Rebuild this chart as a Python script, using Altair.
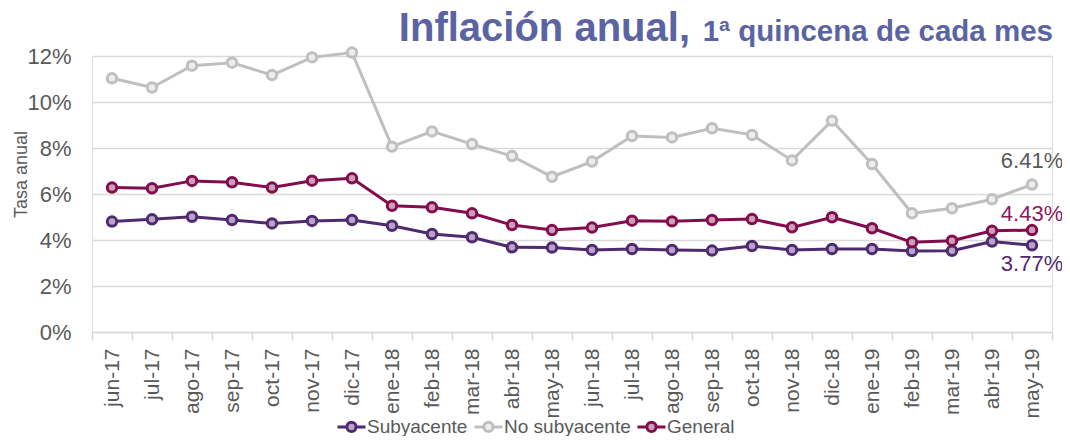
import altair as alt
import pandas as pd

months = ["jun-17", "jul-17", "ago-17", "sep-17", "oct-17", "nov-17", "dic-17",
          "ene-18", "feb-18", "mar-18", "abr-18", "may-18", "jun-18", "jul-18",
          "ago-18", "sep-18", "oct-18", "nov-18", "dic-18", "ene-19", "feb-19",
          "mar-19", "abr-19", "may-19"]

subyacente = [4.80, 4.90, 5.01, 4.87, 4.72, 4.83, 4.87, 4.62, 4.26, 4.12, 3.68, 3.67,
              3.57, 3.61, 3.57, 3.54, 3.74, 3.57, 3.61, 3.61, 3.52, 3.53, 3.93, 3.77]
no_subyacente = [11.03, 10.63, 11.58, 11.71, 11.17, 11.94, 12.15, 8.06, 8.72, 8.17, 7.65, 6.75,
                 7.41, 8.52, 8.46, 8.86, 8.57, 7.46, 9.19, 7.30, 5.16, 5.38, 5.77, 6.41]
general = [6.28, 6.25, 6.57, 6.51, 6.28, 6.58, 6.68, 5.49, 5.42, 5.16, 4.65, 4.43,
           4.54, 4.84, 4.81, 4.87, 4.91, 4.55, 4.99, 4.51, 3.90, 3.97, 4.40, 4.43]

series_names = ["Subyacente", "No subyacente", "General"]
stroke_colors = ["#4F2A6E", "#BFBFBF", "#820C4E"]
fill_colors = ["#B8A4C9", "#EDEDED", "#C9A0B8"]
label_colors = ["#4F2A6E", "#595959", "#8B1A5A"]
label_dy = [26, -17, -9]

title_main = "Inflación anual,"
title_sub = "1ª quincena de cada mes"
y_title = "Tasa anual"

rows = []
for name, vals in zip(series_names, [subyacente, no_subyacente, general]):
    for m, v in zip(months, vals):
        rows.append({"mes": m, "serie": name, "valor": v / 100.0})
df = pd.DataFrame(rows)

FONT = "Liberation Sans"
GRAY = "#595959"

x_enc = alt.X("mes:N", sort=months, bandPosition=0.5,
              scale=alt.Scale(type="band", paddingInner=0, paddingOuter=0),
              axis=alt.Axis(title=None, labelAngle=270, labelAlign="right", labelBaseline="middle",
                            labelFontSize=21, labelColor=GRAY, labelFont=FONT, labelPadding=8,
                            domainColor="#D9D9D9", domainWidth=1.5, tickColor="#D9D9D9",
                            tickWidth=1.5, tickSize=8, tickBand="extent", grid=False))
y_enc = alt.Y("valor:Q",
              scale=alt.Scale(domain=[0, 0.12], nice=False, zero=True),
              axis=alt.Axis(title=y_title, format=".0%", values=[0, 0.02, 0.04, 0.06, 0.08, 0.10, 0.12],
                            labelFontSize=22, labelColor=GRAY, labelFont=FONT, labelPadding=21,
                            domain=False, ticks=False, grid=True, gridColor="#D9D9D9", gridWidth=1.5,
                            titleFont=FONT, titleFontSize=18, titleFontWeight="normal",
                            titleColor=GRAY, titleAngle=270, titleX=-71, titleY=118,
                            titleAlign="center", titleBaseline="middle"))

legend_symbol = "M-1,0L-0.33,0M0.33,0L1,0M0.33,0A0.33,0.33,0,1,1,-0.33,0A0.33,0.33,0,1,1,0.33,0Z"
leg = alt.Legend(title=None, orient="none", legendX=244, legendY=355, direction="horizontal",
                 symbolType=legend_symbol, symbolSize=784, symbolStrokeWidth=3,
                 labelFontSize=19, labelColor=GRAY, labelFont=FONT, labelOffset=0,
                 columnPadding=0, padding=0)

stroke_scale = alt.Scale(domain=series_names, range=stroke_colors)
fill_scale = alt.Scale(domain=series_names, range=fill_colors)

base = alt.Chart(df)

lines = base.mark_line(strokeWidth=3).encode(
    x=x_enc, y=y_enc,
    stroke=alt.Stroke("serie:N", scale=stroke_scale, legend=leg),
)

points = base.mark_point(filled=False, size=90, strokeWidth=3, opacity=1).encode(
    x=x_enc, y=y_enc,
    stroke=alt.Stroke("serie:N", scale=stroke_scale, legend=leg),
    fill=alt.Fill("serie:N", scale=fill_scale, legend=leg),
)

labels = []
for name, col, dy in zip(series_names, label_colors, label_dy):
    labels.append(
        base.transform_filter(
            (alt.datum.serie == name) & (alt.datum.mes == months[-1])
        ).mark_text(font=FONT, fontSize=22, color=col, dy=dy, align="center", baseline="alphabetic").encode(
            x=alt.X("mes:N", sort=months, bandPosition=0.5), y="valor:Q",
            text=alt.Text("valor:Q", format=".2%"),
        )
    )

t_main = alt.Chart(pd.DataFrame({"t": [title_main]})).mark_text(
    font=FONT, fontSize=40, fontWeight="bold", color="#5B64A2", align="right", baseline="alphabetic"
).encode(x=alt.value(598), y=alt.value(-15), text="t:N")

t_sub = alt.Chart(pd.DataFrame({"t": [title_sub]})).mark_text(
    font=FONT, fontSize=29.5, fontWeight="bold", color="#5B64A2", align="right", baseline="alphabetic"
).encode(x=alt.value(961), y=alt.value(-15), text="t:N")

chart = alt.layer(lines, points, *labels, t_main, t_sub).properties(
    width=960, height=276,
    autosize=alt.AutoSizeParams(type="none"),
    padding={"left": 84, "top": 48, "right": 10, "bottom": 104},
).configure_view(stroke=None).configure(background="white")

chart.save("out.html", embed_options={"renderer": "svg", "actions": False})
